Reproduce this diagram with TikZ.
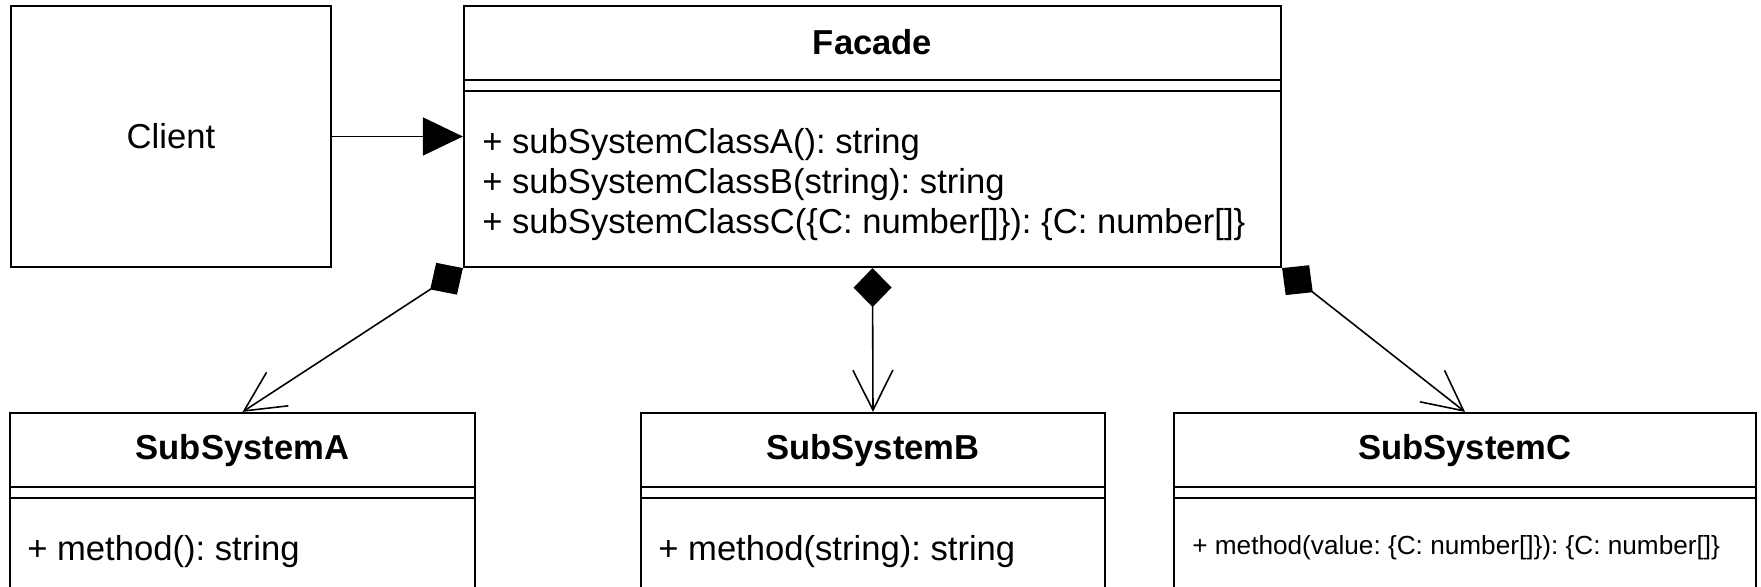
\documentclass[tikz,border=0pt]{standalone}
\usepackage{fontspec}
\setmainfont{Liberation Sans}
\usepackage{tikz}
\usetikzlibrary{arrows.meta,positioning}
\frenchspacing

\begin{document}
\begin{tikzpicture}[x=0.2mm, y=0.2mm,
  every node/.style={font=\fontsize{19.7}{24}\selectfont, inner sep=0pt},
  classbox/.style={draw, line width=1.25pt},
  classname/.style={font=\bfseries\fontsize{19.7}{24}\selectfont},
  member/.style={anchor=west, text height=14pt, text depth=4pt},
  compo/.style={line width=0.9pt, {Diamond[length=7.8mm,width=7.6mm]}-{Straight Barb[length=8mm,width=8mm]}},
  assoc/.style={line width=1pt, -{Triangle[length=8mm,width=7.6mm]}}]

\useasboundingbox (0,0) rectangle (1761,587);

% top row
\node[classbox, minimum width=64mm, minimum height=52.2mm] (client) at (171,450.5) {Client};
\node[classbox, minimum width=163.4mm, minimum height=52.2mm] (facade) at (872.5,450.5) {};
\node[classname, below=7.4mm of facade.north, anchor=center] (facadeName) {Facade};
\node[member] (opA) at (482,442) {+ subSystemClassA(): string};
\node[member] (opB) at (482,402) {+ subSystemClassB(string): string};
\node[member] (opC) at (482,362) {+ subSystemClassC(\{C: number[]\}): \{C: number[]\}};

% subsystems
\node[classbox, minimum width=93mm, minimum height=35.4mm] (subA) at (242.5,85.5) {};
\node[classbox, minimum width=92.8mm, minimum height=35.4mm] (subB) at (873,85.5) {};
\node[classbox, minimum width=116.4mm, minimum height=35.4mm] (subC) at (1465,85.5) {};
\node[classname, below=7.8mm of subA.north, anchor=center] (subAName) {SubSystemA};
\node[classname, below=7.8mm of subB.north, anchor=center] (subBName) {SubSystemB};
\node[classname, below=7.8mm of subC.north, anchor=center] (subCName) {SubSystemC};
\node[member] (methA) at (27,35) {+ method(): string};
\node[member] (methB) at (658,35) {+ method(string): string};
\node[member, font=\fontsize{14.9}{18}\selectfont, text height=11pt, text depth=3pt] (methC) at (1192,40)
  {+ method(value: \{C: number[]\}): \{C: number[]\}};

% compartment lines
\foreach \b in {facade,subA,subB,subC} {
  \draw[line width=1.25pt] ([yshift=-15mm]\b.north west) -- ([yshift=-15mm]\b.north east);
  \draw[line width=1.25pt] ([yshift=-17.3mm]\b.north west) -- ([yshift=-17.3mm]\b.north east);
}

% connectors
\draw[assoc] (client) -- (facade);
\draw[compo] (facade.south west) -- (subA.north);
\draw[compo] (facade.south) -- (subB.north);
\draw[compo] (facade.south east) -- (subC.north);
\end{tikzpicture}
\end{document}
